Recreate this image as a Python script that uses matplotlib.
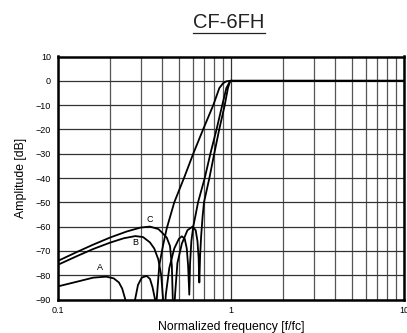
import matplotlib
matplotlib.use("Agg")
import matplotlib.pyplot as plt
from matplotlib.lines import Line2D

plt.rcParams['font.family'] = ['Liberation Sans', 'DejaVu Sans']

# Frequency response of the three filter variants (f/fc, dB)
freq_a = [0.10, 0.13, 0.16, 0.19, 0.21, 0.225, 0.235, 0.245, 0.26, 0.279, 0.29, 0.305,
          0.325, 0.34, 0.352, 0.364, 0.368, 0.372, 0.385, 0.405, 0.425, 0.47, 0.535,
          0.605, 0.69, 0.79, 0.856, 0.90, 0.94, 1.0, 2.0, 10.0]
amp_a = [-84.6, -82.6, -81.0, -80.6, -81.3, -83.0, -85.5, -90.0, -100.0, -90.0, -84.0, -81.0,
         -80.3, -81.5, -85.0, -90.0, -100.0, -90.0, -76.0, -67.6, -60.8, -50.0, -40.0,
         -30.0, -20.0, -10.0, -3.0, -1.0, -0.2, 0.0, 0.0, 0.0]

freq_b = [0.10, 0.13, 0.16, 0.20, 0.24, 0.28, 0.31, 0.34, 0.36, 0.38, 0.395, 0.405,
          0.41, 0.42, 0.44, 0.47, 0.50, 0.52, 0.54, 0.555, 0.565, 0.574, 0.58, 0.59,
          0.605, 0.625, 0.645, 0.705, 0.76, 0.825, 0.89, 0.94, 0.99, 2.0, 10.0]
amp_b = [-75.7, -72.0, -69.2, -66.6, -64.8, -63.9, -64.3, -66.5, -69.0, -73.5, -80.0, -90.0,
         -100.0, -88.0, -77.0, -69.0, -65.0, -64.0, -65.0, -69.0, -76.0, -88.0, -75.0, -66.0,
         -60.0, -55.0, -50.0, -40.0, -30.0, -20.0, -10.0, -3.0, 0.0, 0.0, 0.0]

freq_c = [0.10, 0.13, 0.16, 0.20, 0.25, 0.30, 0.34, 0.38, 0.40, 0.425, 0.444, 0.455,
          0.465, 0.475, 0.49, 0.52, 0.56, 0.60, 0.625, 0.64, 0.65, 0.656, 0.663, 0.672,
          0.685, 0.698, 0.75, 0.80, 0.855, 0.92, 0.96, 0.99, 2.0, 10.0]
amp_c = [-74.1, -70.3, -67.4, -64.5, -62.0, -60.4, -60.0, -61.0, -62.5, -64.5, -68.0, -76.0,
         -100.0, -88.0, -75.0, -67.0, -61.5, -60.0, -61.5, -66.0, -73.0, -83.0, -72.0, -64.0,
         -56.0, -50.0, -40.0, -30.0, -20.0, -10.0, -3.0, 0.0, 0.0, 0.0]

curve_labels = ["A", "B", "C"]
label_pos = [(0.175, -77.0), (0.279, -66.7), (0.340, -57.0)]

y_ticks = [10, 0, -10, -20, -30, -40, -50, -60, -70, -80, -90]
x_ticks = [0.1, 1, 10]
x_ticklabels = ["0.1", "1", "10"]

fig = plt.figure(figsize=(4.07, 3.33), dpi=100)
ax = fig.add_axes([58 / 407, 1 - 299.5 / 333, 346 / 407, 243 / 333])

for f, a in [(freq_a, amp_a), (freq_b, amp_b), (freq_c, amp_c)]:
    ax.plot(f, a, color="black", lw=1.3, solid_joinstyle="round", zorder=3)

for lab, (fx, fy) in zip(curve_labels, label_pos):
    ax.text(fx, fy, lab, fontsize=6.5, ha="center", va="center", zorder=4)

ax.set_xscale("log")
ax.set_xlim(0.1, 10)
ax.set_ylim(-90, 10)
ax.set_yticks(y_ticks)
ax.set_yticklabels([str(v).replace("-", "\u2212") for v in y_ticks])
ax.set_xticks(x_ticks)
ax.set_xticklabels(x_ticklabels)
ax.minorticks_on()
ax.tick_params(which="both", length=0, labelsize=6.5, pad=5)
ax.tick_params(axis="y", which="minor", left=False)
ax.grid(True, which="major", color="#333333", lw=0.9)
ax.grid(True, which="minor", axis="x", color="#555555", lw=0.9)
ax.yaxis.set_minor_locator(matplotlib.ticker.NullLocator())
for s in ax.spines.values():
    s.set_linewidth(1.8)
    s.set_color("black")

ax.set_xlabel("Normalized frequency [f/fc]", fontsize=8.8, labelpad=4)
ax.set_ylabel("Amplitude [dB]", fontsize=8.8, labelpad=6)

t = fig.text(229 / 407, 1 - 22 / 333, "CF-6FH", fontsize=14.5, ha="center", va="center",
             color="#222222")
fig.canvas.draw()
bb = t.get_window_extent()
fig.add_artist(Line2D([bb.x0 / 407, bb.x1 / 407], [1 - 32.5 / 333] * 2,
                      transform=fig.transFigure, color="#222222", lw=0.9))

fig.savefig("out.png", dpi=100)
